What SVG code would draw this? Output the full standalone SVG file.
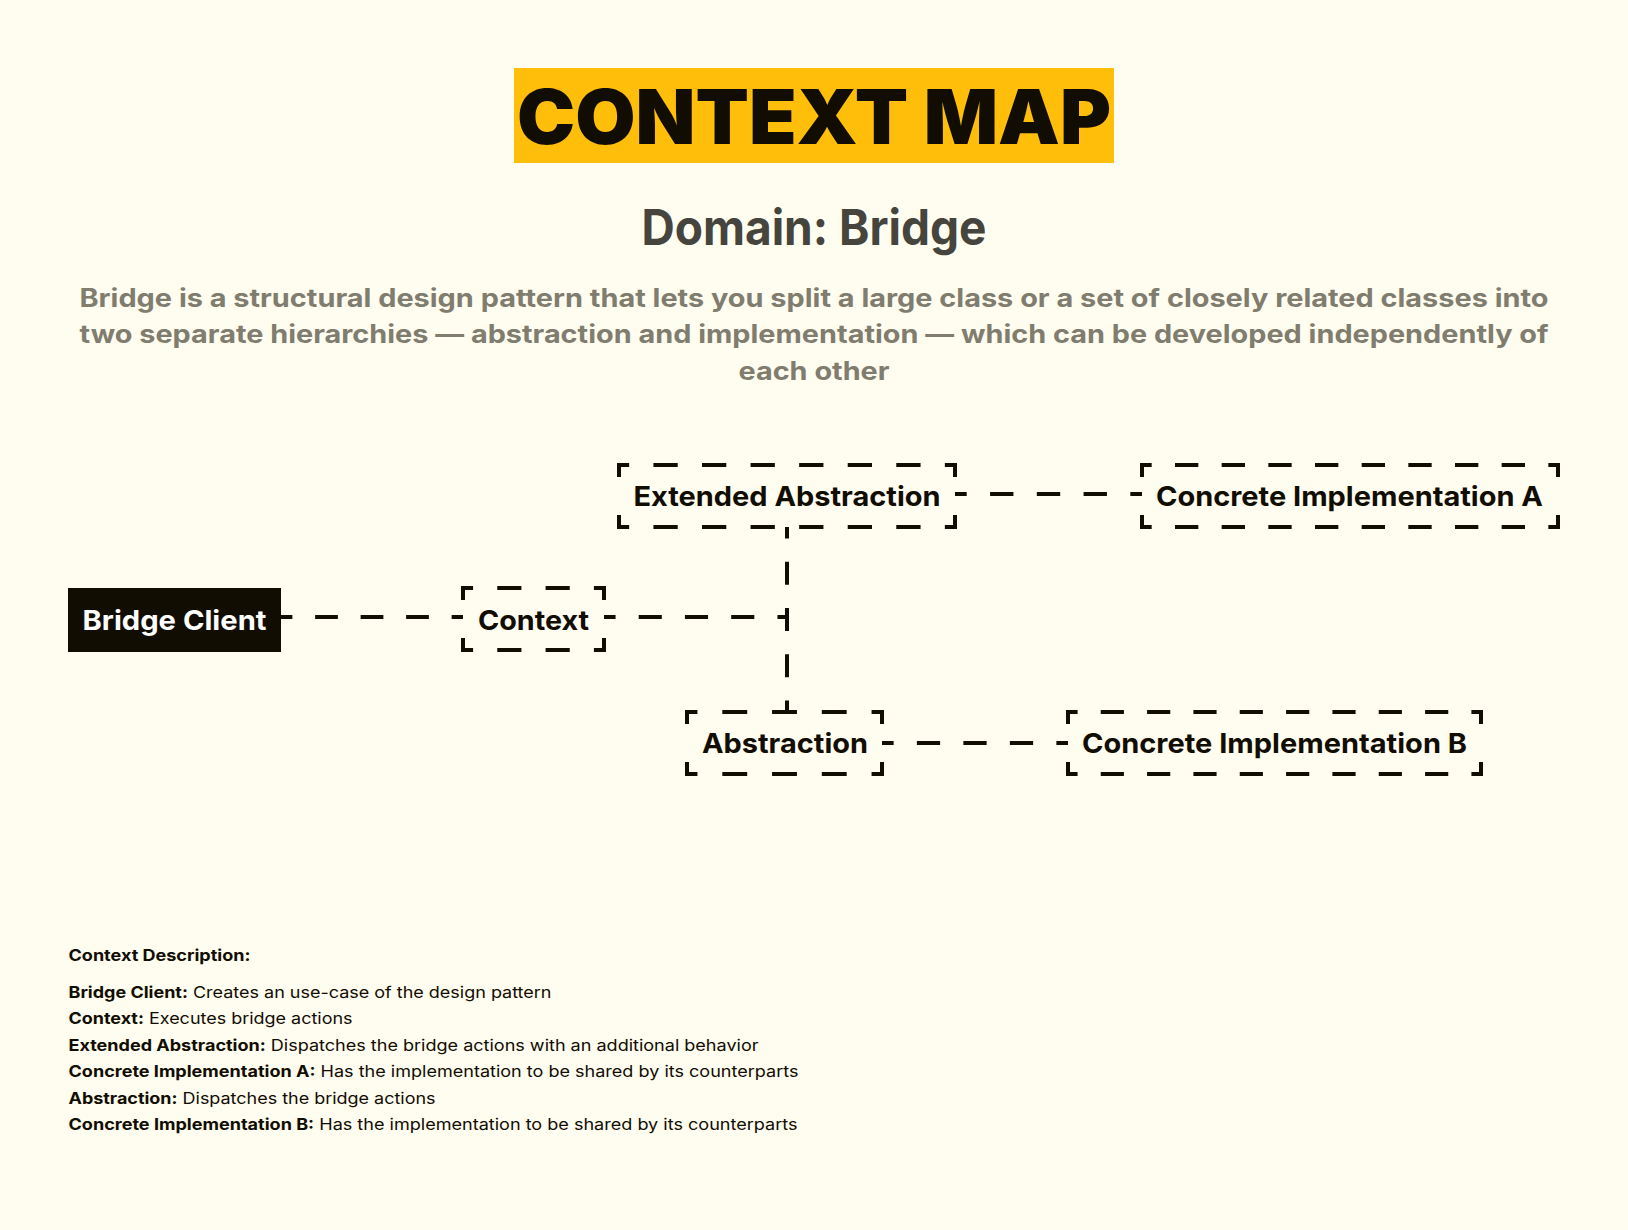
<svg xmlns="http://www.w3.org/2000/svg" width="1628" height="1230" viewBox="0 0 1628 1230">
<style>
.bd{fill:none;stroke:#110d02;stroke-width:4;stroke-dasharray:2 2;stroke-dashoffset:1}
.bv{fill:none;stroke:#110d02;stroke-width:4;stroke-dasharray:0.85 2.3 0.85 0}
.lbl{font-family:Inter,"Noto Sans",sans-serif;font-weight:700;font-size:27.5px;fill:#110d02;text-anchor:middle}
.desc{font-family:Inter,"Noto Sans",sans-serif;font-weight:700;font-size:25.5px;fill:#807d6f;text-anchor:middle}
.foot{font-family:Inter,"Noto Sans",sans-serif;font-size:16px;fill:#110d02}
.b{font-weight:700}
</style>
<rect x="0" y="0" width="1628" height="1230" fill="#fffcf0"/>
<g id="header">
<rect x="514" y="68" width="600" height="95" fill="#ffbe0a"/>
<text x="814" y="144" font-family="Inter,'Noto Sans',sans-serif" font-weight="900" font-size="76" fill="#110d02" text-anchor="middle" textLength="594" lengthAdjust="spacingAndGlyphs">CONTEXT MAP</text>
<text x="814" y="245" font-family="Inter,'Noto Sans',sans-serif" font-weight="700" font-size="49" fill="#45443d" text-anchor="middle" textLength="345" lengthAdjust="spacingAndGlyphs">Domain: Bridge</text>
<text class="desc" x="814" y="307" textLength="1469" lengthAdjust="spacingAndGlyphs">Bridge is a structural design pattern that lets you split a large class or a set of closely related classes into</text>
<text class="desc" x="814" y="343" textLength="1469" lengthAdjust="spacingAndGlyphs">two separate hierarchies — abstraction and implementation — which can be developed independently of</text>
<text class="desc" x="814" y="380" textLength="151" lengthAdjust="spacingAndGlyphs">each other</text>
</g>
<g id="connectors">
<path class="bd" pathLength="16" d="M281 617H463"/>
<path class="bd" pathLength="16" d="M604 617H789"/>
<path class="bd" pathLength="16" d="M787 527V712"/>
<path class="bd" pathLength="16" d="M955 494H1142"/>
<path class="bd" pathLength="16" d="M882 743H1068"/>
</g>
<g id="bridge-client">
<rect x="68" y="588" width="213" height="64" fill="#110d02"/>
<text class="lbl" x="174.5" y="629.5" style="fill:#ffffff" textLength="184" lengthAdjust="spacingAndGlyphs">Bridge Client</text>
</g>
<g id="context">
<path class="bd" pathLength="12" d="M461 588H606"/>
<path class="bd" pathLength="12" d="M461 650H606"/>
<path class="bv" pathLength="4" d="M463 586V652"/>
<path class="bv" pathLength="4" d="M604 586V652"/>
<text class="lbl" x="533.5" y="629.5" textLength="111" lengthAdjust="spacingAndGlyphs">Context</text>
</g>
<g id="extended-abstraction">
<path class="bd" pathLength="28" d="M617 465H957"/>
<path class="bd" pathLength="28" d="M617 527H957"/>
<path class="bv" pathLength="4" d="M619 463V529"/>
<path class="bv" pathLength="4" d="M955 463V529"/>
<text class="lbl" x="787" y="506" textLength="307" lengthAdjust="spacingAndGlyphs">Extended Abstraction</text>
</g>
<g id="concrete-implementation-a">
<path class="bd" pathLength="36" d="M1140 465H1560"/>
<path class="bd" pathLength="36" d="M1140 527H1560"/>
<path class="bv" pathLength="4" d="M1142 463V529"/>
<path class="bv" pathLength="4" d="M1558 463V529"/>
<text class="lbl" x="1349.5" y="506" textLength="387" lengthAdjust="spacingAndGlyphs">Concrete Implementation A</text>
</g>
<g id="abstraction">
<path class="bd" pathLength="16" d="M685 712H884"/>
<path class="bd" pathLength="16" d="M685 774H884"/>
<path class="bv" pathLength="4" d="M687 710V776"/>
<path class="bv" pathLength="4" d="M882 710V776"/>
<text class="lbl" x="785" y="753" textLength="166" lengthAdjust="spacingAndGlyphs">Abstraction</text>
</g>
<g id="concrete-implementation-b">
<path class="bd" pathLength="36" d="M1066 712H1483"/>
<path class="bd" pathLength="36" d="M1066 774H1483"/>
<path class="bv" pathLength="4" d="M1068 710V776"/>
<path class="bv" pathLength="4" d="M1481 710V776"/>
<text class="lbl" x="1274.5" y="753" textLength="385" lengthAdjust="spacingAndGlyphs">Concrete Implementation B</text>
</g>
<g id="context-description">
<text class="foot b" x="68.5" y="961" textLength="182" lengthAdjust="spacingAndGlyphs">Context Description:</text>
<text class="foot" x="68.5" y="997.5" textLength="483" lengthAdjust="spacingAndGlyphs"><tspan class="b">Bridge Client:</tspan> Creates an use-case of the design pattern</text>
<text class="foot" x="68.5" y="1024" textLength="284" lengthAdjust="spacingAndGlyphs"><tspan class="b">Context:</tspan> Executes bridge actions</text>
<text class="foot" x="68.5" y="1050.5" textLength="690" lengthAdjust="spacingAndGlyphs"><tspan class="b">Extended Abstraction:</tspan> Dispatches the bridge actions with an additional behavior</text>
<text class="foot" x="68.5" y="1077" textLength="730" lengthAdjust="spacingAndGlyphs"><tspan class="b">Concrete Implementation A:</tspan> Has the implementation to be shared by its counterparts</text>
<text class="foot" x="68.5" y="1103.5" textLength="367" lengthAdjust="spacingAndGlyphs"><tspan class="b">Abstraction:</tspan> Dispatches the bridge actions</text>
<text class="foot" x="68.5" y="1130" textLength="729" lengthAdjust="spacingAndGlyphs"><tspan class="b">Concrete Implementation B:</tspan> Has the implementation to be shared by its counterparts</text>
</g>
</svg>
